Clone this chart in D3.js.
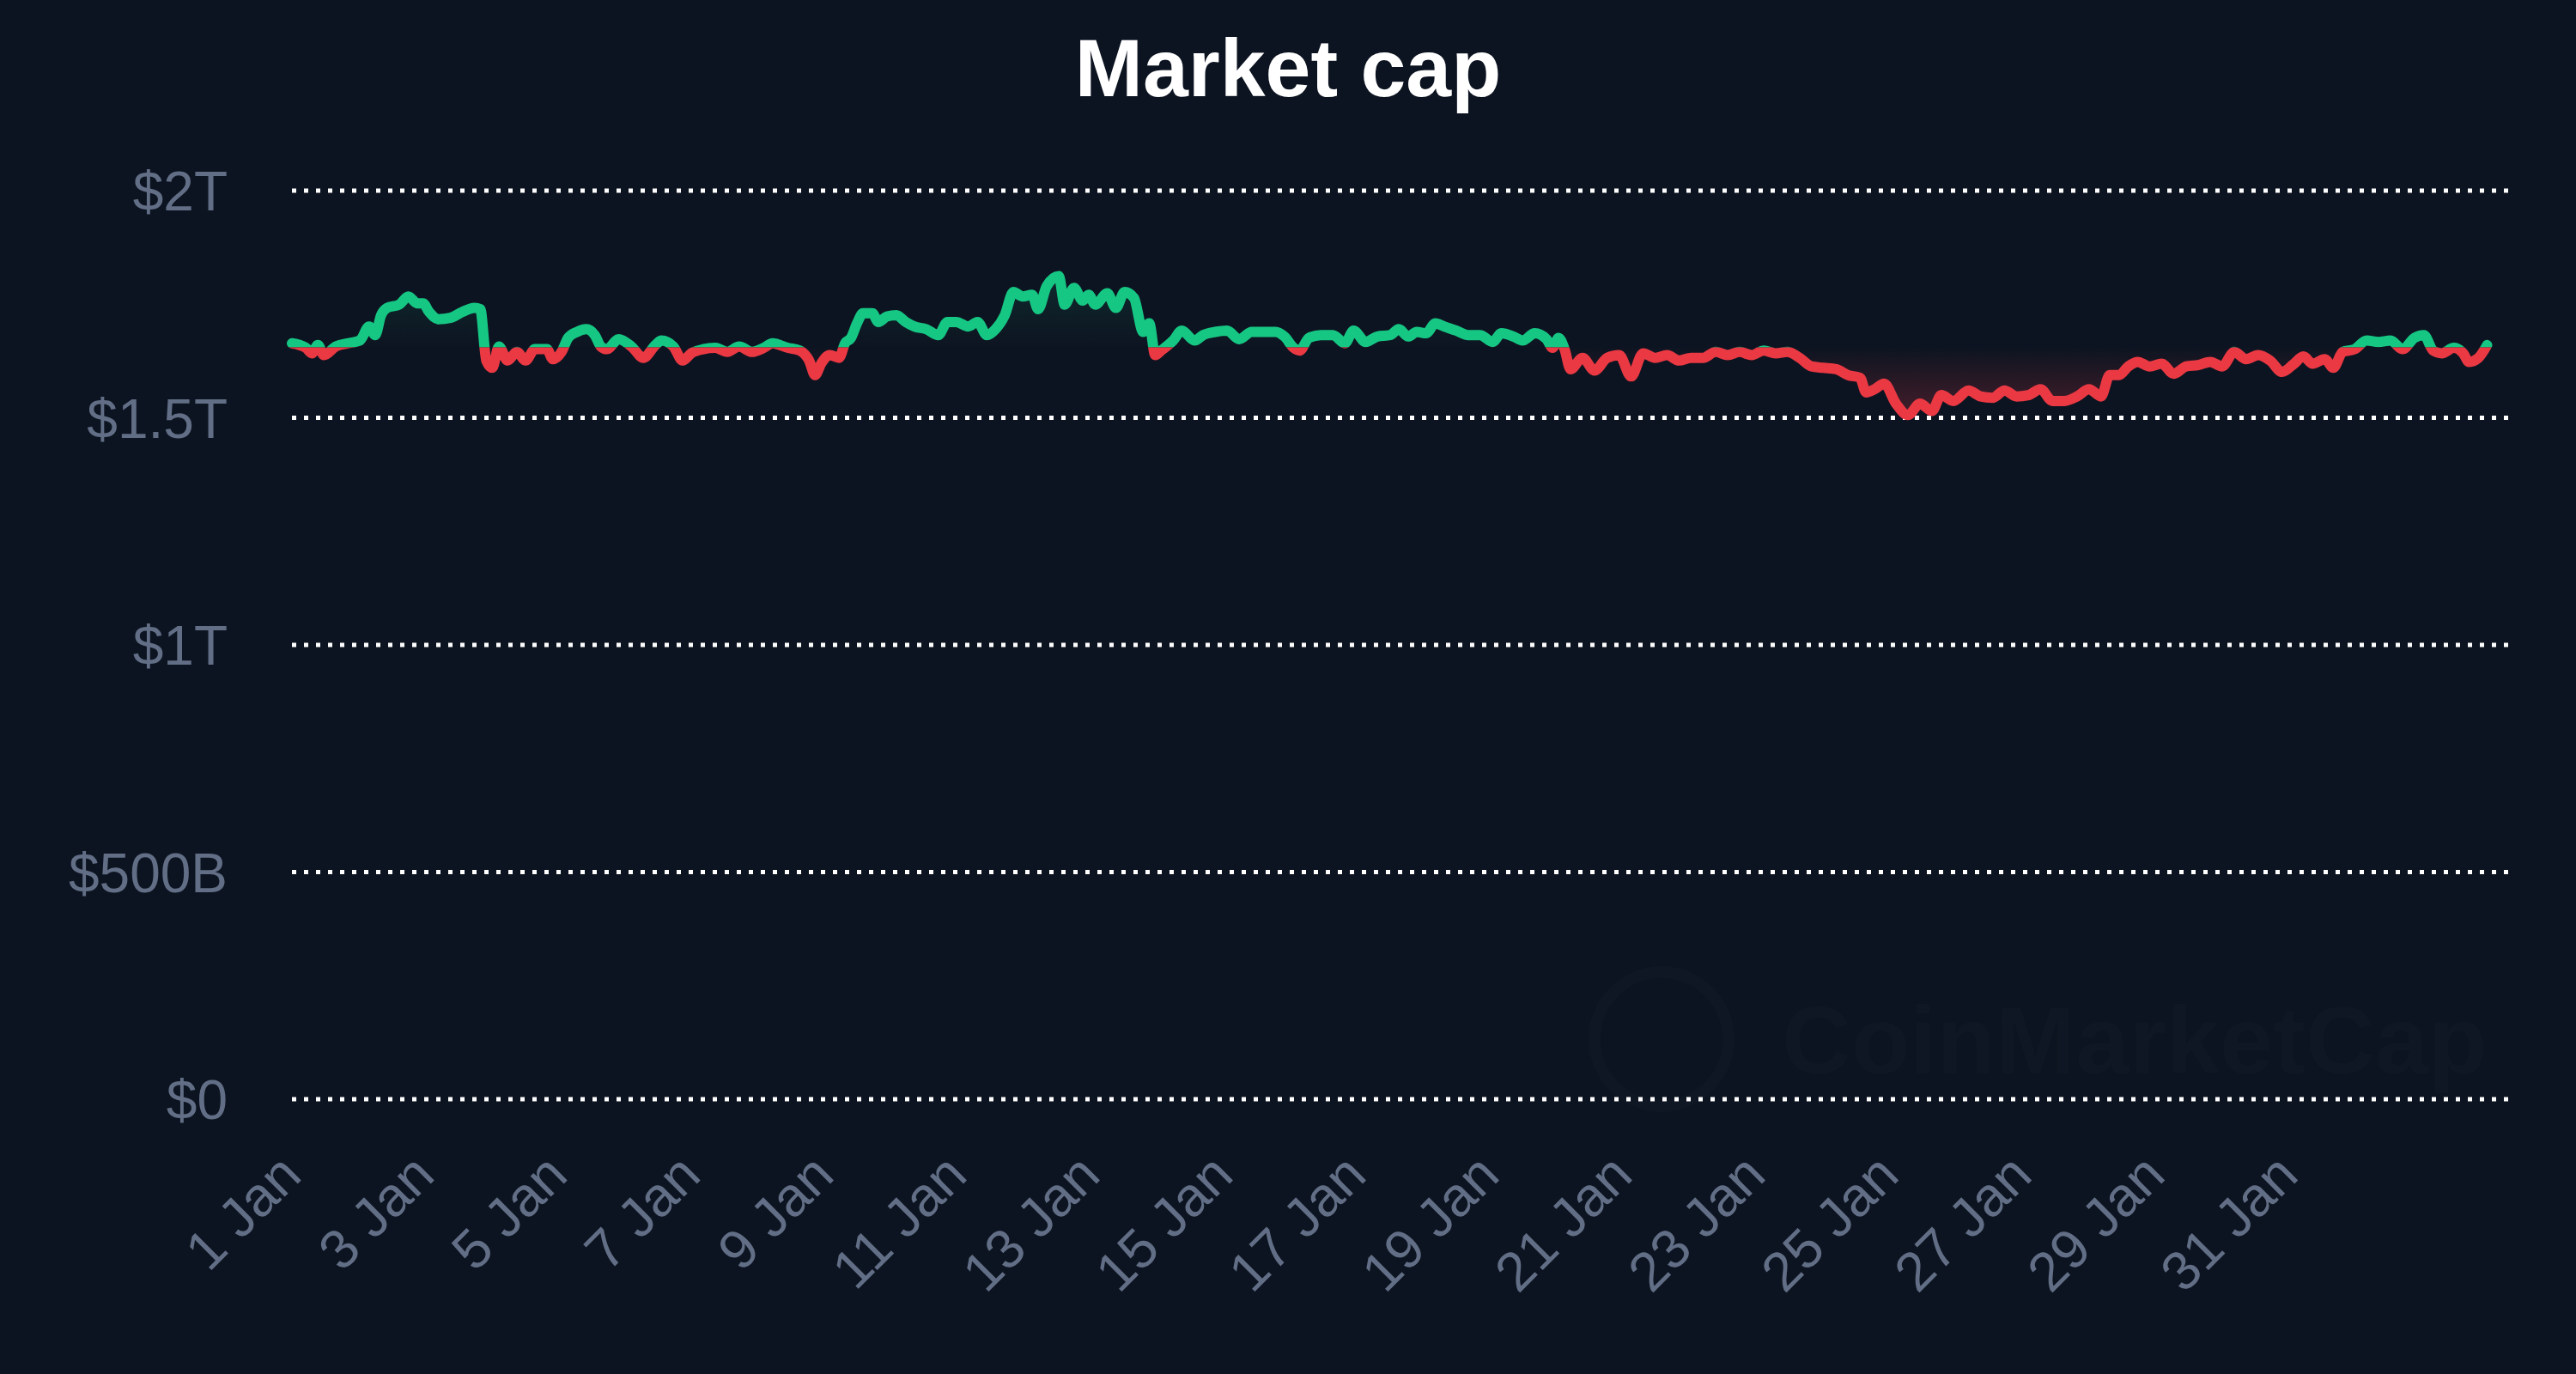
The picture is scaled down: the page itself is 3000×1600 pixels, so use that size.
<!DOCTYPE html>
<html><head><meta charset="utf-8">
<script src="https://cdn.jsdelivr.net/npm/d3@7"></script>
<style>html,body{margin:0;background:#0d1421;}svg{display:block;}</style>
</head><body>
<script>
// Days since 1 Jan 00:00
const days = [
0,.21,.30,.39,.48,.66,.84,1.02,1.16,1.25,
1.34,1.43,1.61,1.75,1.88,1.97,2.06,2.20,2.38,2.56,
2.74,2.83,2.92,3.01,3.11,3.24,3.38,3.51,3.65,3.83,
3.92,4.05,4.15,4.28,4.42,4.55,4.64,4.73,4.91,5.10,
5.28,5.46,5.55,5.73,5.87,6.00,6.18,6.36,6.54,6.72,
6.91,7.09,7.22,7.45,7.63,7.77,7.86,7.95,8.08,8.22,
8.31,8.40,8.49,8.58,8.72,8.81,8.94,9.08,9.22,9.35,
9.53,9.71,9.85,9.98,10.16,10.30,10.44,10.57,10.71,10.84,
10.98,11.12,11.21,11.34,11.52,11.61,11.75,11.88,11.97,12.07,
12.25,12.38,12.51,12.65,12.79,12.88,12.97,13.06,13.24,13.37,
13.56,
13.69,13.87,14.05,14.23,14.42,14.60,14.78,14.91,15.05,15.14,
15.28,15.46,15.64,15.82,15.95,16.13,16.31,16.50,16.63,16.77,
16.90,17.04,17.18,17.31,17.49,17.67,17.85,18.04,18.17,18.35,
18.49,18.67,18.85,18.94,19.03,19.12,19.21,19.39,19.57,19.76,
19.94,20.12,20.30,20.48,20.66,20.84,21.02,21.20,21.39,21.57,
21.75,21.93,22.11,22.29,22.47,22.65,22.83,23.01,23.20,23.38,
23.56,23.65,23.78,23.92,24.10,24.28,24.46,24.64,24.78,24.96,
25.19,25.37,25.55,25.73,25.91,26.09,26.27,26.45,26.63,26.82,
27.00,27.18,27.31,27.45,27.59,
27.73,27.91,28.09,28.27,28.46,28.64,28.82,29.00,29.18,29.36,
29.54,29.72,29.90,30.08,30.22,30.36,30.54,30.67,30.81,30.99,
31.17,31.35,31.53,31.71,31.89,32.03,32.17,32.30,32.48,32.62,
32.71,32.85,32.98
];
// Market cap in trillions USD
const marketCap = [
1.664,1.654,1.642,1.660,1.638,1.657,1.664,1.670,1.701,1.682,
1.726,1.742,1.749,1.767,1.752,1.752,1.733,1.717,1.720,1.733,
1.742,1.739,1.626,1.610,1.657,1.626,1.645,1.626,1.651,1.651,
1.629,1.645,1.676,1.689,1.695,1.682,1.657,1.651,1.673,1.657,
1.632,1.660,1.670,1.657,1.626,1.642,1.651,1.654,1.645,1.657,
1.645,1.654,1.664,1.654,1.648,1.626,1.594,1.619,1.638,1.632,
1.664,1.676,1.708,1.730,1.730,1.711,1.723,1.726,1.711,1.701,
1.695,1.682,1.711,1.711,1.701,1.711,1.682,1.695,1.726,1.777,
1.767,1.771,1.739,1.790,1.812,1.749,1.786,1.758,1.771,1.749,
1.774,1.742,1.777,1.764,1.689,1.708,1.638,1.648,1.670,1.692,
1.670,
1.682,1.689,1.692,1.673,1.689,1.689,1.689,1.679,1.654,1.648,
1.676,1.682,1.682,1.664,1.692,1.667,1.679,1.682,1.695,1.679,
1.689,1.686,1.708,1.701,1.692,1.682,1.682,1.667,1.686,1.679,
1.670,1.686,1.673,1.654,1.676,1.651,1.607,1.632,1.604,1.632,
1.638,1.591,1.642,1.632,1.638,1.626,1.632,1.632,1.645,1.638,
1.645,1.638,1.648,1.642,1.645,1.632,1.613,1.610,1.607,1.594,
1.588,1.556,1.563,1.575,1.531,1.506,1.531,1.515,1.550,1.537,
1.560,1.547,1.544,1.560,1.547,1.550,1.563,1.537,1.537,1.547,
1.563,1.547,1.594,1.594,1.613,
1.623,1.613,1.619,1.597,1.613,1.616,1.623,1.613,1.645,1.629,
1.638,1.626,1.601,1.619,1.635,1.619,1.629,1.610,1.645,1.651,
1.670,1.667,1.670,1.651,1.676,1.682,1.648,1.642,1.654,1.642,
1.623,1.632,1.660
];
const baseline = 1.655;
const yTicks = [0, 0.5, 1, 1.5, 2];
const yTickLabels = ["$0", "$500B", "$1T", "$1.5T", "$2T"];
const xTickDays = [1,3,5,7,9,11,13,15,17,19,21,23,25,27,29,31];
const title = "Market cap";

const W = 3000, H = 1600;
const t0 = Date.UTC(2021, 0, 1);
const DAY = 86400000;
const data = days.map((d, i) => ({ t: new Date(t0 + d * DAY), v: marketCap[i] }));

const svg = d3.select("body").append("svg").attr("width", W).attr("height", H)
  .style("font-family", "'Liberation Sans', Arial, sans-serif");
svg.append("rect").attr("width", W).attr("height", H).attr("fill", "#0d1421");

const x = d3.scaleUtc().domain([new Date(t0), new Date(t0 + 33 * DAY)]).range([340, 2898]);
const y = d3.scaleLinear().domain([0, 2]).range([1280, 222]);
const gridX1 = 2922;

svg.append("text").attr("x", 1500).attr("y", 112).attr("text-anchor", "middle")
  .attr("fill", "#fff").attr("font-weight", "bold").attr("font-size", 95).text(title);

// watermark
const wm = svg.append("g");
wm.append("circle").attr("cx", 1935).attr("cy", 1210).attr("r", 78)
  .attr("fill", "none").attr("stroke", "#101724").attr("stroke-width", 14);
wm.append("text").attr("x", 2075).attr("y", 1250).attr("fill", "#101724")
  .attr("font-size", 112).attr("font-weight", "bold").text("CoinMarketCap");

const gy = svg.append("g");
yTicks.forEach((t, i) => {
  gy.append("line").attr("x1", 340).attr("x2", gridX1).attr("y1", y(t)).attr("y2", y(t))
    .attr("stroke", "#ffffff").attr("stroke-width", 5).attr("stroke-dasharray", "5,9");
  gy.append("text").attr("x", 265).attr("y", y(t)).attr("dy", "0.36em")
    .attr("text-anchor", "end").attr("fill", "#616e85").attr("font-size", 64)
    .text(yTickLabels[i]);
});

const gx = svg.append("g");
xTickDays.forEach(d => {
  const xp = x(new Date(t0 + (d - 1) * DAY));
  gx.append("text").attr("transform", `translate(${xp - 18},1340) rotate(-45)`)
    .attr("text-anchor", "end").attr("dy", "0.7em").attr("fill", "#616e85")
    .attr("font-size", 64).text(`${d} Jan`);
});

const defs = svg.append("defs");
const yb = y(baseline);
const gG = defs.append("linearGradient").attr("id", "gG").attr("gradientUnits", "userSpaceOnUse")
  .attr("x1", 0).attr("x2", 0).attr("y1", y(d3.max(marketCap))).attr("y2", yb);
gG.append("stop").attr("offset", 0).attr("stop-color", "#16c784").attr("stop-opacity", 0.12);
gG.append("stop").attr("offset", 1).attr("stop-color", "#16c784").attr("stop-opacity", 0);
const gR = defs.append("linearGradient").attr("id", "gR").attr("gradientUnits", "userSpaceOnUse")
  .attr("x1", 0).attr("x2", 0).attr("y1", yb).attr("y2", y(d3.min(marketCap)));
gR.append("stop").attr("offset", 0).attr("stop-color", "#ea3943").attr("stop-opacity", 0);
gR.append("stop").attr("offset", 1).attr("stop-color", "#ea3943").attr("stop-opacity", 0.25);
defs.append("clipPath").attr("id", "cAbove").append("rect")
  .attr("x", 0).attr("y", 0).attr("width", W).attr("height", yb);
defs.append("clipPath").attr("id", "cBelow").append("rect")
  .attr("x", 0).attr("y", yb).attr("width", W).attr("height", H - yb);

const area = d3.area().x(d => x(d.t)).y0(yb).y1(d => y(d.v)).curve(d3.curveMonotoneX);
const line = d3.line().x(d => x(d.t)).y(d => y(d.v)).curve(d3.curveMonotoneX);

svg.append("path").datum(data).attr("d", area).attr("fill", "url(#gG)").attr("clip-path", "url(#cAbove)");
svg.append("path").datum(data).attr("d", area).attr("fill", "url(#gR)").attr("clip-path", "url(#cBelow)");
svg.append("path").datum(data).attr("d", line).attr("fill", "none").attr("stroke", "#16c784")
  .attr("stroke-width", 12).attr("stroke-linejoin", "round").attr("stroke-linecap", "round").attr("clip-path", "url(#cAbove)");
svg.append("path").datum(data).attr("d", line).attr("fill", "none").attr("stroke", "#ea3943")
  .attr("stroke-width", 12).attr("stroke-linejoin", "round").attr("stroke-linecap", "round").attr("clip-path", "url(#cBelow)");
</script>
</body></html>
